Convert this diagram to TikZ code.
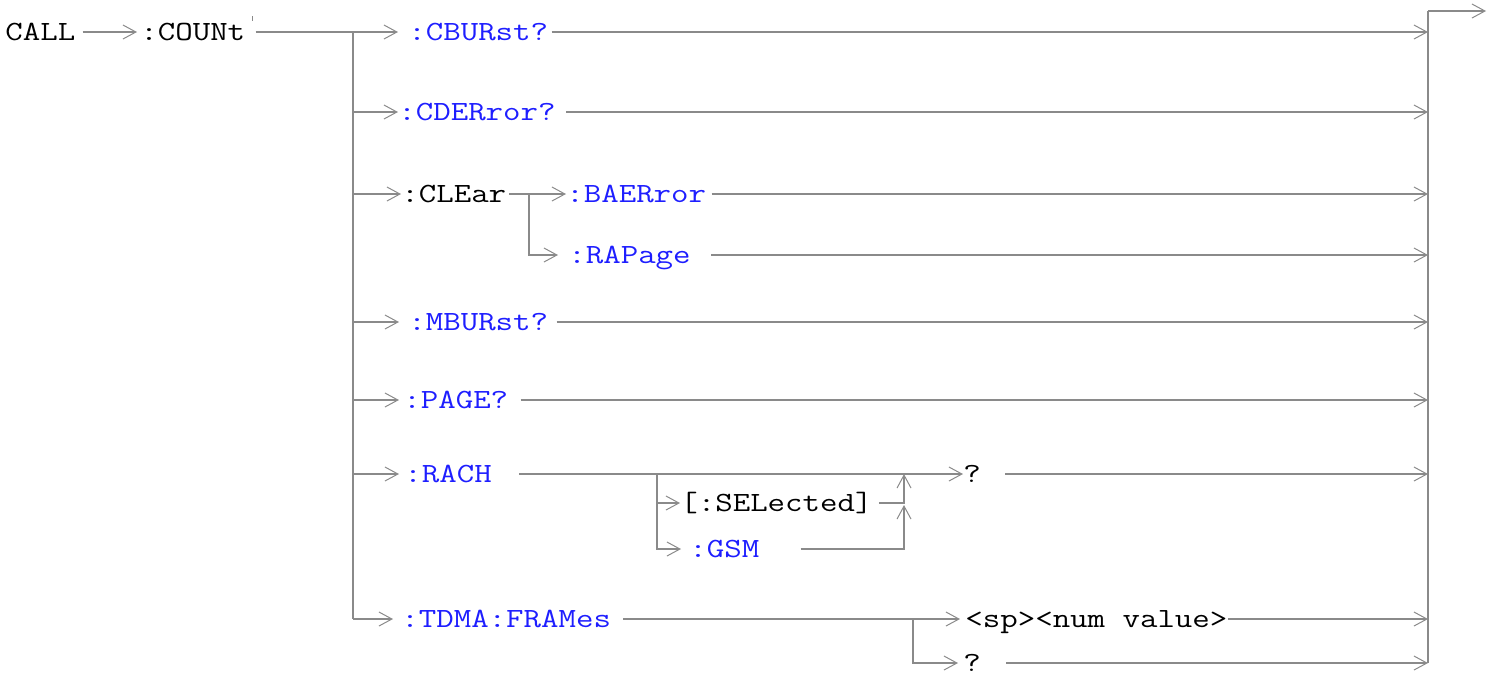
\documentclass[tikz,border=0pt]{standalone}
\usepackage{fontspec}
\newfontfamily\cour[FakeStretch=1.22]{Latin Modern Mono}
\usetikzlibrary{arrows.meta}
\definecolor{lg}{RGB}{138,138,138}
\definecolor{kb}{RGB}{30,30,255}
\tikzset{
  lbl/.style={font=\cour\fontsize{13.9pt}{16pt}\selectfont, anchor=west, inner sep=0pt, text height=8.5pt, text depth=0pt},
  kw/.style={lbl, text=kb},
  plain/.style={lbl, text=black},
  ln/.style={draw=lg, line width=0.8pt},
  arr/.style={ln, -{Straight Barb[length=6.5pt,width=7pt,line width=0.5pt]}},
}
\begin{document}
\begin{tikzpicture}[x=0.5pt,y=-0.5pt]
\useasboundingbox (0,0) rectangle (1497,676);
% nodes
\node[plain] (call) at (5,32) {CALL};
\node[plain] (count) at (140,32) {:COUNt};
\node[kw] (cburst) at (408,32) {:CBURst?};
\node[kw] (cderror) at (398,112) {:CDERror?};
\node[plain] (clear) at (401,194) {:CLEar};
\node[kw] (baerror) at (566,194) {:BAERror};
\node[kw] (rapage) at (568,255) {:RAPage};
\node[kw] (mburst) at (408,322) {:MBURst?};
\node[kw] (page) at (403,400) {:PAGE?};
\node[kw] (rach) at (404,474) {:RACH};
\node[plain] (rq) at (963,474) {?};
\node[plain] (selected) at (680,503) {[:SELected]};
\node[kw] (gsm) at (689,549) {:GSM};
\node[kw] (tdma) at (401,619) {:TDMA:FRAMes};
\node[plain] (spnum) at (965,619) {<sp><num value>};
\node[plain] (tq) at (963,663) {?};
% junction coordinates
\coordinate (j0) at (353,32);
\coordinate (r0) at (1428,11);
\coordinate (r1) at (1428,663);
\coordinate (out) at (1486,11);
\coordinate (jc) at (529,194);
\coordinate (jr) at (657,474);
\coordinate (ju) at (904,474);
\coordinate (jus) at (904,505);
\coordinate (jt) at (913,619);
% tick mark
\draw[lg, line width=0.4pt] (252,16) -- (252,21);
% connectors
\draw[arr, shorten <=3.5pt, shorten >=1.5pt] (call) -- (count);
\draw[arr, shorten <=5pt, shorten >=5pt] (count) -- (cburst);
\draw[ln] (j0) -- (j0 |- tdma);
\draw[arr, shorten <=1.5pt] (cburst) -- (cburst -| r0);
\draw[arr] (j0 |- cderror) -- (cderror);
\draw[arr, shorten <=5pt] (cderror) -- (cderror -| r0);
\draw[arr] (j0 |- clear) -- (clear);
\draw[arr, shorten <=1.2pt] (clear) -- (baerror);
\draw[arr, shorten <=2.5pt] (baerror) -- (baerror -| r0);
\draw[arr, shorten >=5pt] (jc) |- (rapage);
\draw[arr, shorten <=10pt] (rapage) -- (rapage -| r0);
\draw[arr, shorten >=4.5pt] (j0 |- mburst) -- (mburst);
\draw[arr, shorten <=4pt] (mburst) -- (mburst -| r0);
\draw[arr, shorten >=2pt] (j0 |- page) -- (page);
\draw[arr, shorten <=6pt] (page) -- (page -| r0);
\draw[arr, shorten >=2.5pt] (j0 |- rach) -- (rach);
\draw[arr, shorten <=13.5pt] (rach) -- (rq);
\draw[arr, shorten <=12pt] (rq) -- (rq -| r0);
\draw[arr] (jr) |- (selected);
\draw[arr, shorten >=4pt] (jr) |- (gsm);
\draw[arr, shorten <=3pt] (selected) -| (ju);
\draw[arr, shorten <=20.5pt] (gsm) -| (jus);
\draw[arr, shorten >=4pt] (j0 |- tdma) -- (tdma);
\draw[arr, shorten <=6pt, shorten >=2.5pt] (tdma) -- (spnum);
\draw[arr, shorten >=2.5pt] (jt) |- (tq);
\draw[arr] (spnum) -- (spnum -| r0);
\draw[arr, shorten <=12.5pt] (tq) -- (tq -| r0);
\draw[ln] (r0) -- (r1);
\draw[arr] (r0) -- (out);
\end{tikzpicture}
\end{document}
